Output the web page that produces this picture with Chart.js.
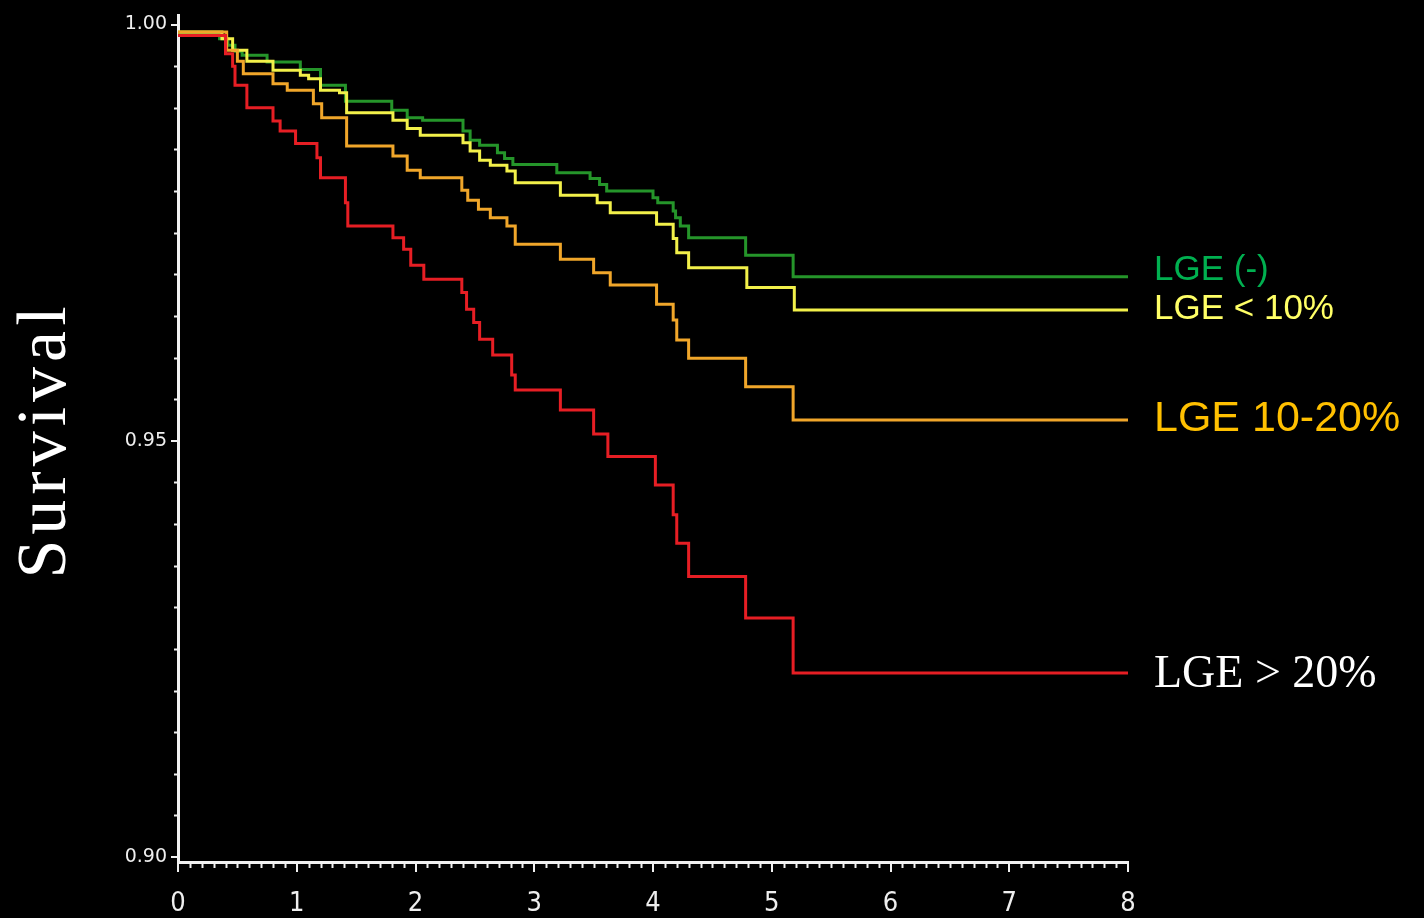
<!DOCTYPE html>
<html>
<head>
<meta charset="utf-8">
<script src="https://cdn.jsdelivr.net/npm/chart.js@4/dist/chart.umd.min.js"></script>
<style>
  html, body { margin: 0; padding: 0; background: #000; }
  canvas { display: block; }
</style>
</head>
<body>
<canvas id="c" width="1424" height="918"></canvas>
<script>
// ---- Data (years, survival) ----
const seriesNames = ['LGE (-)', 'LGE < 10%', 'LGE 10-20%', 'LGE > 20%'];

const tGreen = [0, 0.35, 0.42, 0.48, 0.54, 0.75, 1.03, 1.20, 1.41, 1.80, 1.93, 2.06, 2.40, 2.46, 2.54, 2.69, 2.75, 2.82, 3.19, 3.47, 3.55, 3.61, 4.00, 4.04, 4.17, 4.19, 4.23, 4.30, 4.78, 5.18, 8];
const sGreen = [0.9990, 0.9983, 0.9975, 0.9968, 0.9963, 0.9955, 0.9946, 0.9927, 0.9908, 0.9897, 0.9888, 0.9885, 0.9872, 0.9861, 0.9855, 0.9846, 0.9839, 0.9832, 0.9822, 0.9815, 0.9808, 0.9800, 0.9792, 0.9786, 0.9776, 0.9768, 0.9758, 0.9744, 0.9723, 0.9697, 0.9697];

const tYellow = [0, 0.37, 0.46, 0.58, 0.80, 1.03, 1.10, 1.20, 1.36, 1.42, 1.81, 1.93, 2.04, 2.40, 2.46, 2.54, 2.63, 2.77, 2.84, 3.22, 3.53, 3.64, 4.03, 4.17, 4.20, 4.30, 4.79, 5.19, 8];
const sYellow = [0.9991, 0.9983, 0.9969, 0.9956, 0.9945, 0.9939, 0.9935, 0.9921, 0.9918, 0.9894, 0.9885, 0.9875, 0.9867, 0.9858, 0.9848, 0.9837, 0.9831, 0.9824, 0.9810, 0.9795, 0.9786, 0.9774, 0.9760, 0.9743, 0.9726, 0.9708, 0.9684, 0.9657, 0.9657];

const tOrange = [0, 0.41, 0.50, 0.55, 0.80, 0.92, 1.14, 1.21, 1.42, 1.81, 1.93, 2.04, 2.39, 2.44, 2.53, 2.63, 2.77, 2.84, 3.22, 3.50, 3.64, 4.03, 4.17, 4.20, 4.30, 4.78, 5.18, 8];
const sOrange = [0.9991, 0.9969, 0.9956, 0.9941, 0.9929, 0.9921, 0.9905, 0.9888, 0.9854, 0.9842, 0.9825, 0.9816, 0.9801, 0.9789, 0.9778, 0.9768, 0.9758, 0.9736, 0.9718, 0.9702, 0.9687, 0.9664, 0.9645, 0.9621, 0.9599, 0.9565, 0.9525, 0.9525];

const tRed = [0, 0.40, 0.46, 0.48, 0.58, 0.80, 0.86, 0.99, 1.17, 1.20, 1.41, 1.43, 1.81, 1.90, 1.96, 2.07, 2.39, 2.43, 2.49, 2.54, 2.65, 2.81, 2.84, 3.22, 3.50, 3.62, 4.02, 4.17, 4.20, 4.30, 4.78, 5.18, 8];
const sRed = [0.9987, 0.9965, 0.9950, 0.9927, 0.9900, 0.9884, 0.9872, 0.9857, 0.9840, 0.9816, 0.9786, 0.9758, 0.9744, 0.9730, 0.9711, 0.9694, 0.9678, 0.9658, 0.9642, 0.9622, 0.9603, 0.9579, 0.9561, 0.9537, 0.9508, 0.9481, 0.9447, 0.9411, 0.9377, 0.9337, 0.9287, 0.9221, 0.9221];

const xTickValues = [0, 1, 2, 3, 4, 5, 6, 7, 8];
const yTickValues = [0.90, 0.95, 1.00];
const yTickLabels = ['0.90', '0.95', '1.00'];
const yAxisTitle = 'Survival';

// ---- Styles ----
const lineColors = ['#25952a', '#f2f04a', '#f0a62a', '#e61e24'];
const labelColors = ['#00b050', '#ffff66', '#ffc000', '#ffffff'];
const labelFonts = ['35px "Liberation Sans"', '35px "Liberation Sans"', '43px "Liberation Sans"', '46px "Liberation Serif"'];
const labelDy = [3, 9, 11, 14];

const toPts = (t, s) => t.map((x, i) => ({ x: x, y: s[i] }));
const allT = [tGreen, tYellow, tOrange, tRed];
const allS = [sGreen, sYellow, sOrange, sRed];

const datasets = allT.map((t, i) => ({
  label: seriesNames[i],
  data: toPts(t, allS[i]),
  borderColor: lineColors[i],
  borderWidth: 3,
  stepped: true,
  pointRadius: 0,
  fill: false
})).reverse();

const bgPlugin = {
  id: 'bg',
  beforeDraw(chart) {
    const ctx = chart.ctx;
    ctx.save();
    ctx.fillStyle = '#000';
    ctx.fillRect(0, 0, chart.width, chart.height);
    ctx.restore();
  }
};

const extrasPlugin = {
  id: 'extras',
  afterDraw(chart) {
    const ctx = chart.ctx;
    const xs = chart.scales.x, ys = chart.scales.y;
    const area = chart.chartArea;
    ctx.save();
    // minor ticks
    ctx.strokeStyle = '#f0f0f0';
    ctx.lineWidth = 2;
    for (let k = 0; k <= 80; k++) {
      if (k % 10 === 0) continue;
      const px = Math.round(xs.getPixelForValue(k / 10)) + 0.5;
      ctx.beginPath();
      ctx.moveTo(px, area.bottom);
      ctx.lineTo(px, area.bottom + 6);
      ctx.stroke();
    }
    for (let k = 0; k <= 20; k++) {
      if (k % 10 === 0) continue;
      const py = Math.round(ys.getPixelForValue(0.90 + k * 0.005)) + 0.5;
      ctx.beginPath();
      ctx.moveTo(area.left - 4, py);
      ctx.lineTo(area.left, py);
      ctx.stroke();
    }
    // end labels
    allS.forEach((s, i) => {
      const y = ys.getPixelForValue(s[s.length - 1]) + labelDy[i];
      ctx.font = labelFonts[i];
      ctx.fillStyle = labelColors[i];
      ctx.textAlign = 'left';
      ctx.textBaseline = 'alphabetic';
      ctx.fillText(seriesNames[i], area.right + 26, y);
    });
    // y axis title
    ctx.translate(65, 440);
    ctx.rotate(-Math.PI / 2);
    ctx.font = '70px "Liberation Serif"';
    try { ctx.letterSpacing = '5px'; } catch (e) {}
    ctx.fillStyle = '#ffffff';
    ctx.textAlign = 'center';
    ctx.textBaseline = 'alphabetic';
    ctx.fillText(yAxisTitle, 0, 0);
    ctx.restore();
  }
};

new Chart(document.getElementById('c'), {
  type: 'line',
  data: { datasets },
  options: {
    responsive: false,
    devicePixelRatio: 1,
    animation: false,
    layout: { padding: { top: 12, right: 296, bottom: 0, left: 0 } },
    plugins: { legend: { display: false }, tooltip: { enabled: false } },
    scales: {
      x: {
        type: 'linear',
        min: 0, max: 8,
        afterBuildTicks: s => { s.ticks = xTickValues.map(v => ({ value: v })); },
        afterFit: s => { s.height = 56; },
        ticks: {
          color: '#eeeeee',
          font: { family: 'DejaVu Sans Condensed', size: 27 },
          padding: 16,
          maxRotation: 0,
          autoSkip: false,
          callback: v => String(v)
        },
        grid: { display: true, drawOnChartArea: false, drawTicks: true, tickLength: 10, color: '#f0f0f0', lineWidth: 2 },
        border: { display: true, color: '#f0f0f0', width: 3 }
      },
      y: {
        type: 'linear',
        min: 0.8994, max: 1.0011,
        afterBuildTicks: s => { s.ticks = yTickValues.map(v => ({ value: v })); },
        afterFit: s => { s.width = 178; },
        ticks: {
          color: '#eeeeee',
          font: { family: 'DejaVu Sans', size: 19 },
          padding: 4,
          autoSkip: false,
          callback: (v, i) => yTickLabels[i]
        },
        grid: { display: true, drawOnChartArea: false, drawTicks: true, tickLength: 7, color: '#f0f0f0', lineWidth: 2 },
        border: { display: true, color: '#f0f0f0', width: 3 }
      }
    }
  },
  plugins: [bgPlugin, extrasPlugin]
});
</script>
</body>
</html>
